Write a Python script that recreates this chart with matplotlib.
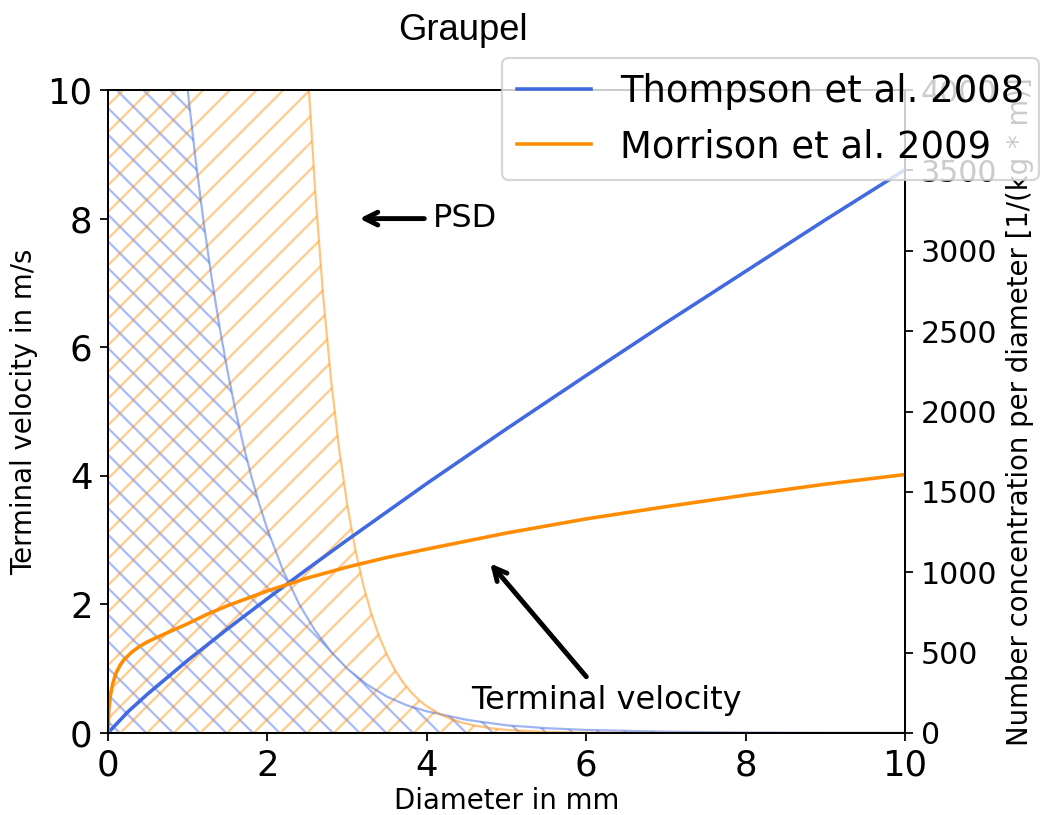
import matplotlib
matplotlib.use('Agg')
import matplotlib.pyplot as plt

# ---------------- data ----------------
diam_v_thompson = [0, 0.25, 0.5, 1, 1.5, 2, 2.5, 3, 3.5, 4, 5, 6, 7, 8, 9, 10]
v_thompson = [0, 0.33, 0.61, 1.13, 1.62, 2.09, 2.55, 3.00, 3.44, 3.88,
              4.73, 5.56, 6.38, 7.18, 7.98, 8.76]

diam_v_morrison = [0, 0.01, 0.03, 0.06, 0.1, 0.15, 0.2, 0.3, 0.4, 0.5, 0.6,
                   0.8, 1.0, 1.25, 1.5, 2, 2.5, 3, 3.5, 4, 5, 6, 7, 8, 9, 10]
v_morrison = [0, 0.36, 0.58, 0.77, 0.93, 1.05, 1.14, 1.26, 1.35, 1.42, 1.48,
              1.59, 1.70, 1.85, 1.98, 2.21, 2.41, 2.58, 2.73, 2.86, 3.11,
              3.33, 3.52, 3.70, 3.87, 4.02]

diam_psd_thompson = [0, 0.5, 0.8, 0.9, 1.0, 1.1, 1.2, 1.3, 1.4, 1.5, 1.6, 1.7,
                     1.8, 1.9, 2.0, 2.2, 2.4, 2.6, 2.8, 3.0, 3.25, 3.5, 3.75,
                     4.0, 4.5, 5.0, 5.5, 6.0, 7.0, 8.0, 9.0, 10.0]
psd_thompson = [12630, 7107, 5033, 4486, 3999, 3564, 3177, 2832, 2525, 2251,
                2006, 1788, 1594, 1421, 1267, 1007, 800, 636, 505, 401, 301,
                226, 172, 135, 82, 48, 30, 19, 8, 3, 1, 0.5]

diam_psd_morrison = [0, 2.0, 2.3, 2.4, 2.5, 2.6, 2.7, 2.8, 2.9, 3.0, 3.1, 3.2,
                     3.3, 3.4, 3.5, 3.6, 3.7, 3.8, 3.9, 4.0, 4.2, 4.4, 4.6,
                     4.8, 5.0, 5.5, 6.0, 7.0, 8.0, 10.0]
psd_morrison = [900000, 12240, 6420, 5177, 4176, 3368, 2716, 2190, 1767, 1425,
                1149, 927, 748, 603, 486, 392, 316, 255, 206, 166, 108, 70,
                46, 30, 19, 6.5, 2.2, 0.3, 0.03, 0]

labels = ['Thompson et al. 2008', 'Morrison et al. 2009']
x_ticks = [0, 2, 4, 6, 8, 10]
v_ticks = [0, 2, 4, 6, 8, 10]
n_ticks = [0, 500, 1000, 1500, 2000, 2500, 3000, 3500, 4000]

BLUE = '#4169E1'
ORANGE = '#FF8C00'

plt.rcParams['font.family'] = ['DejaVu Sans']
plt.rcParams['hatch.linewidth'] = 1.0

W, H = 1040, 815
fig = plt.figure(figsize=(W / 160, H / 160), dpi=160)
ax1 = fig.add_axes([108 / W, 1 - 733 / H, (905 - 108) / W, (733 - 90) / H])
ax2 = ax1.twinx()
ax1.set_zorder(ax2.get_zorder() + 1)
ax1.patch.set_visible(False)

# PSDs on the right axis
ax2.fill_between(diam_psd_thompson, 0, psd_thompson, facecolor='none',
                 edgecolor=BLUE, hatch='\\\\', alpha=0.45, linewidth=0)
ax2.plot(diam_psd_thompson, psd_thompson, color=BLUE, alpha=0.5, lw=1)
ax2.fill_between(diam_psd_morrison, 0, psd_morrison, facecolor='none',
                 edgecolor=ORANGE, hatch='//', alpha=0.45, linewidth=0)
ax2.plot(diam_psd_morrison, psd_morrison, color=ORANGE, alpha=0.5, lw=1)

# terminal velocities on the left axis
l1, = ax1.plot(diam_v_thompson, v_thompson, color=BLUE, lw=1.6)
l2, = ax1.plot(diam_v_morrison, v_morrison, color=ORANGE, lw=1.6)

ax1.set_xlim(0, 10)
ax1.set_ylim(0, 10)
ax2.set_ylim(0, 4000)
ax1.set_xticks(x_ticks)
ax1.set_yticks(v_ticks)
ax2.set_yticks(n_ticks)
ax1.tick_params(labelsize=16)
ax2.tick_params(labelsize=13.5)

ax1.set_xlabel('Diameter in mm', fontsize=12.4, labelpad=2)
ax1.set_ylabel('Terminal velocity in m/s', fontsize=12.4)
ax2.set_ylabel('Number concentration per diameter [1/(kg * m)]', fontsize=12.4)

ax1.annotate('PSD', xy=(3.1, 8.0), xytext=(4.08, 8.0), fontsize=14.4,
             ha='left', va='center',
             arrowprops=dict(arrowstyle='->', lw=2.2, color='black'))
ax1.annotate('Terminal velocity', xy=(4.76, 2.69), xytext=(6.25, 0.38),
             fontsize=14.4, ha='center', va='baseline',
             arrowprops=dict(arrowstyle='->', lw=2.2, color='black'))

fig.text(463 / W, 1 - 40 / H, 'Graupel', fontsize=16.4,
         family='Liberation Sans', ha='center', va='baseline')

ax1.legend([l1, l2], labels, loc='upper left',
           bbox_to_anchor=(502 / W, 1 - 58 / H), bbox_transform=fig.transFigure,
           fontsize=16.6, borderaxespad=0)

fig.savefig('out.png', dpi=160)
